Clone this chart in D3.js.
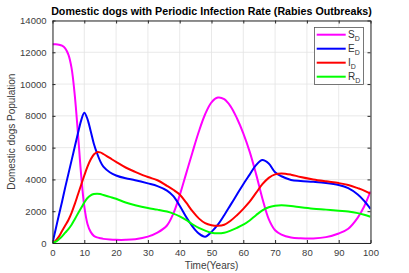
<!DOCTYPE html>
<html><head><meta charset="utf-8">
<script src="https://cdn.jsdelivr.net/npm/d3@7"></script>
<style>body{margin:0;background:#fff}svg{display:block;font-family:"Liberation Sans",Arial,sans-serif}</style>
</head><body><svg id="c" width="409" height="273"></svg>
<script>
const time = [0,1,2,3,4,5,6,7,8,9,10,11,12,13,14,15,16,18,20,23,26,30,33,36,38,40,42,44,46,48,50,52,54,56,58,60,62,64,66,68,70,72,75,78,82,86,90,93,96,98,100];
const sD = [12500,12500,12480,12420,12250,11850,11000,9300,6900,4300,2300,1200,700,450,350,300,260,220,200,200,240,400,650,1100,1850,3000,4350,5700,7000,8100,8850,9150,9050,8600,7850,6900,5750,4350,2800,1500,800,530,350,300,290,370,600,900,1600,2300,3250];
const eD = [0,870,1750,2600,3500,4350,5200,6050,6900,7700,8200,7800,7050,6250,5650,5150,4800,4450,4250,4070,3950,3750,3580,3300,2950,2350,1650,1050,600,400,700,1150,1750,2400,3050,3700,4300,4900,5220,5000,4450,4200,3970,3900,3850,3780,3650,3450,3050,2650,2150];
const iD = [0,150,400,750,1100,1450,1900,2450,3050,3650,4250,4800,5250,5570,5720,5700,5600,5350,5100,4750,4480,4150,3950,3600,3350,3050,2550,2000,1550,1250,1120,1080,1150,1400,1750,2150,2600,3150,3700,4100,4320,4380,4300,4150,4000,3880,3770,3650,3450,3300,3100];
const rD = [0,80,230,420,650,880,1150,1500,1850,2200,2550,2830,3000,3080,3100,3080,3020,2900,2780,2550,2380,2200,2100,1980,1850,1680,1450,1180,950,780,650,610,650,780,950,1150,1420,1750,2050,2250,2340,2370,2330,2250,2160,2100,2030,1980,1880,1780,1650];
const xTicks = [0,10,20,30,40,50,60,70,80,90,100];
const yTicks = [0,2000,4000,6000,8000,10000,12000,14000];
const seriesNames = ["S","E","I","R"];
const seriesColors = ["#ff00ff","#0000ff","#ff0000","#00ff00"];
const seriesData = [sD,eD,iD,rD];

const svg = d3.select("#c");
const L=52.5, R=370.5, T=20.5, B=243;
const x = d3.scaleLinear().domain([0,100]).range([L,R]);
const y = d3.scaleLinear().domain([0,14000]).range([B,T]);
const axisCol = "#262626";

// grid
svg.append("g").selectAll("line").data(xTicks).join("line")
  .attr("x1",d=>x(d)).attr("x2",d=>x(d)).attr("y1",T).attr("y2",B)
  .attr("stroke","#e3e3e3").attr("stroke-width",0.8);
svg.append("g").selectAll("line").data(yTicks).join("line")
  .attr("y1",d=>y(d)).attr("y2",d=>y(d)).attr("x1",L).attr("x2",R)
  .attr("stroke","#e3e3e3").attr("stroke-width",0.8);

// lines
svg.append("clipPath").attr("id","pc").append("rect")
  .attr("x",L).attr("y",T).attr("width",R-L).attr("height",B-T);
const line = d3.line().x((d,i)=>x(time[i])).y(d=>y(d)).curve(d3.curveCatmullRom.alpha(0.5));
svg.append("g").attr("clip-path","url(#pc)").selectAll("path").data(seriesData).join("path")
  .attr("d",line).attr("fill","none")
  .attr("stroke",(d,i)=>seriesColors[i]).attr("stroke-width",2);

// axes
const fs = "9.5px";
svg.append("g").attr("transform",`translate(0,${B})`)
  .call(d3.axisBottom(x).tickValues(xTicks).tickSizeInner(-3).tickSizeOuter(0).tickPadding(6))
  .call(g=>{g.selectAll("line").attr("stroke",axisCol);g.selectAll("text").attr("fill","#404040").style("font-size",fs).attr("font-family","Liberation Sans, Arial");g.select(".domain").attr("stroke",axisCol);});
svg.append("g").attr("transform",`translate(0,${T})`)
  .call(d3.axisTop(x).tickValues(xTicks).tickSizeInner(-3).tickSizeOuter(0).tickFormat(""))
  .call(g=>{g.selectAll("line").attr("stroke",axisCol);g.select(".domain").attr("stroke",axisCol);});
svg.append("g").attr("transform",`translate(${L},0)`)
  .call(d3.axisLeft(y).tickValues(yTicks).tickSizeInner(-3).tickSizeOuter(0).tickPadding(6).tickFormat(d3.format("d")))
  .call(g=>{g.selectAll("line").attr("stroke",axisCol);g.selectAll("text").attr("fill","#404040").style("font-size",fs).attr("font-family","Liberation Sans, Arial");g.select(".domain").attr("stroke",axisCol);});
svg.append("g").attr("transform",`translate(${R},0)`)
  .call(d3.axisRight(y).tickValues(yTicks).tickSizeInner(-3).tickSizeOuter(0).tickFormat(""))
  .call(g=>{g.selectAll("line").attr("stroke",axisCol);g.select(".domain").attr("stroke",axisCol);});

// labels
svg.append("text").attr("x",(L+R)/2).attr("y",14.5).attr("text-anchor","middle")
  .attr("font-weight","bold").style("font-size","10.7px").attr("fill","#000")
  .text("Domestic dogs with Periodic Infection Rate (Rabies Outbreaks)");
svg.append("text").attr("x",(L+R)/2).attr("y",269).attr("text-anchor","middle")
  .style("font-size","10px").attr("fill","#404040").text("Time(Years)");
svg.append("text").attr("transform",`translate(15,${(T+B)/2}) rotate(-90)`).attr("text-anchor","middle")
  .style("font-size","10px").attr("fill","#404040").text("Domestic dogs Population");

// legend
const lg = svg.append("g");
lg.append("rect").attr("x",314.5).attr("y",27.5).attr("width",49).attr("height",57)
  .attr("fill","#fff").attr("stroke","#555").attr("stroke-width",0.8);
seriesNames.forEach((n,i)=>{
  const yy = 34.7 + i*14;
  lg.append("line").attr("x1",316.7).attr("x2",345.7).attr("y1",yy).attr("y2",yy)
    .attr("stroke",seriesColors[i]).attr("stroke-width",2);
  const t = lg.append("text").attr("x",348).attr("y",yy+3.5).style("font-size","10px").attr("fill","#333");
  t.append("tspan").text(n);
  t.append("tspan").attr("dy",3).style("font-size","7px").text("D");
});
</script></body></html>
